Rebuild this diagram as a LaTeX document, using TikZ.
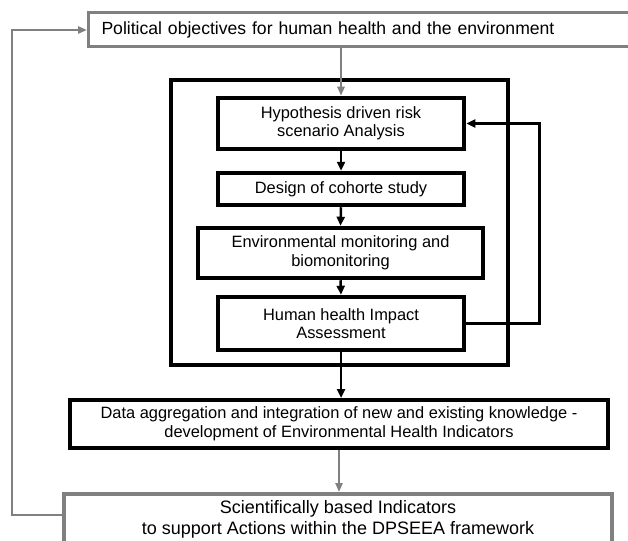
\documentclass[tikz,border=0pt]{standalone}
\usepackage{fontspec}
\setmainfont{Liberation Sans}
\usetikzlibrary{arrows.meta}
\definecolor{bgray}{RGB}{128,128,128}
\begin{document}
\begin{tikzpicture}[x=1pt,y=-1pt,
  inbox/.style={draw=black, line width=4.5pt, minimum width=246pt, inner sep=0pt, align=center,
    font=\fontsize{16.4}{18.5}\selectfont},
  bigtext/.style={font=\fontsize{18}{21}\selectfont, align=center, inner sep=0pt},
  polbox/.style={draw=bgray, line width=3pt, minimum height=34pt, text width=550pt, inner xsep=13pt,
    inner ysep=0pt, align=left, font=\fontsize{17.6}{21}\selectfont},
  databox/.style={draw=black, line width=4pt, minimum width=538pt, minimum height=48pt, inner sep=0pt,
    align=center, font=\fontsize{16.4}{19}\selectfont},
  scibox/.style={draw=bgray, line width=4pt, minimum width=548pt, minimum height=100pt, inner sep=0pt},
  outerbox/.style={draw=black, line width=3.5pt, minimum width=337pt, minimum height=285pt, inner sep=0pt},
  barrow/.style={draw=black, line width=2.5pt, -{Triangle[length=9pt,width=8pt]}},
  garrow/.style={draw=bgray, line width=2.2pt, -{Triangle[length=9pt,width=7pt]}},
  looparrow/.style={draw=black, line width=3.5pt, -{Triangle[length=9pt,width=8pt]}}
]
\useasboundingbox (0,0) rectangle (628,540);
\fill[white] (0,0) rectangle (628,540);

\node[polbox, anchor=west] (pol) at (87,30) {Political objectives for human health and the environment};

\node[outerbox] (outer) at (339.5,222.5) {};

\node[inbox, minimum height=51pt] (hyp) at (341,123.5) {Hypothesis driven risk\\scenario Analysis};
\node[inbox, minimum height=32pt] (des) at (341,189) {Design of cohorte study};
\node[inbox, minimum height=50pt, minimum width=285pt] (env) at (340.5,253) {Environmental monitoring and\\biomonitoring};
\node[inbox, minimum height=53pt] (hum) at (341,323.5) {Human health Impact\\Assessment};

\node[databox] (data) at (339,424) {Data aggregation and integration of new and existing knowledge -\\development of Environmental Health Indicators};

\node[scibox, anchor=north] (sci) at (338,492) {};
\node[bigtext] (scitext) at (338,519) {Scientifically based Indicators\\to support Actions within the DPSEEA framework};

\draw[garrow] (hyp.north |- pol.south) -- (hyp.north);
\draw[barrow] (hyp.south) -- (des.north);
\draw[barrow] (des.south) -- (env.north);
\draw[barrow] (env.south) -- (hum.north);
\draw[barrow] (hum.south) -- (hum.south |- data.north);
\draw[looparrow] (hum.east) -- ++(73,0) |- (hyp.east);
\draw[garrow] (data.south) -- (data.south |- sci.north);
\draw[garrow] ([yshift=-23pt]sci.north west) -- ++(-50,0) |- (pol.west);
\end{tikzpicture}
\end{document}
